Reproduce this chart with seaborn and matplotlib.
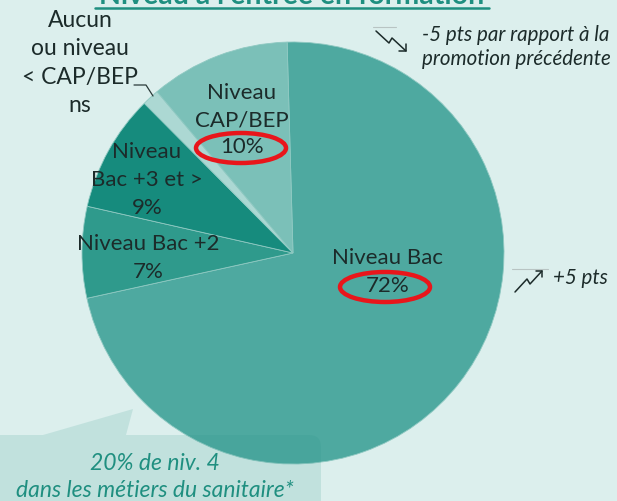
import matplotlib
matplotlib.use("Agg")
import matplotlib.pyplot as plt
from matplotlib.patches import Ellipse, FancyBboxPatch, Polygon
import seaborn as sns

# =========================
# Données
# =========================
niveaux = ["Niveau Bac", "Niveau Bac +2", "Niveau\nBac +3 et >",
           "Aucun\nou niveau\n< CAP/BEP", "Niveau\nCAP/BEP"]
parts = [72, 7, 9, 1.3, 10.7]
etiquettes = ["72%", "7%", "9%", "ns", "10%"]
couleurs = ["#4ea9a0", "#2f9a8c", "#168b7d", "#acd8d3", "#7bc0b8"]

W, H = 617, 501
FOND = "#dcefed"
TEXTE = "#1c2b2a"
TEAL = "#1f8f80"

sns.set_theme(style="white")
plt.rcParams["font.family"] = ["Lato", "DejaVu Sans"]

fig = plt.figure(figsize=(W / 100, H / 100), dpi=100, facecolor=FOND)
ax = fig.add_axes([0, 0, 1, 1])
ax.set_facecolor(FOND)


def Y(y):
    # coordonnées image -> coordonnées axes
    return H - y


ax.pie(parts, colors=couleurs, startangle=91.6, counterclock=False,
       center=(293, Y(253)), radius=211,
       wedgeprops=dict(linewidth=0.6, edgecolor="#8fc9c2"))
ax.set_xlim(0, W)
ax.set_ylim(0, H)
ax.set_aspect("equal")
ax.axis("off")

fs = 16


def etiquette(x, y, txt, taille=fs, esp=1.45):
    ax.text(x, Y(y), txt, ha="center", va="center", fontsize=taille,
            color=TEXTE, linespacing=esp)


# étiquettes des parts
etiquette(388, 272, niveaux[0] + "\n" + etiquettes[0], esp=1.5)
etiquette(242, 120, niveaux[4] + "\n" + etiquettes[4], esp=1.45)
etiquette(147, 180, niveaux[2] + "\n" + etiquettes[2], esp=1.5)
etiquette(148, 258, niveaux[1] + "\n" + etiquettes[1], esp=1.45)
etiquette(80, 63, niveaux[3] + "\n" + etiquettes[3], taille=16.5, esp=1.42)
ax.plot([134, 146, 153], [Y(85), Y(85), Y(96)], color="#2a3a39", lw=0.9)

# cercles rouges
for cx, cy in [(241, 148), (385, 287)]:
    ax.add_patch(Ellipse((cx, Y(cy)), 90, 30, fill=False,
                         edgecolor="#e8161b", lw=3.2, zorder=5))

# évolutions
ax.text(422, Y(47), "-5 pts par rapport à la\npromotion précédente", ha="left",
        va="center", fontsize=14.8, style="italic", color=TEXTE, linespacing=1.2)
ax.plot([373, 396], [Y(27), Y(27)], color="#b8c4c3", lw=0.8)
ax.plot([376, 389, 392, 406], [Y(31), Y(43), Y(38), Y(51)], color="#1c2b2a", lw=1.1)
ax.plot([399, 406, 406], [Y(51), Y(51), Y(44)], color="#1c2b2a", lw=1.1)

ax.text(553, Y(278), "+5 pts", ha="left", va="center", fontsize=14.8,
        style="italic", color=TEXTE)
ax.plot([512, 548], [Y(269), Y(269)], color="#b8c4c3", lw=0.8)
ax.plot([515, 527, 530, 542], [Y(292), Y(279), Y(284), Y(271)], color="#1c2b2a", lw=1.1)
ax.plot([536, 542, 542], [Y(271), Y(271), Y(277)], color="#1c2b2a", lw=1.1)

# bulle du bas
bulle = "#2a9488"
ax.add_patch(FancyBboxPatch((-20, Y(520)), 341, 85,
                            boxstyle="round,pad=0,rounding_size=12",
                            facecolor=bulle, edgecolor="none", alpha=0.15, zorder=4))
ax.add_patch(Polygon([(43, Y(435)), (133, Y(409)), (126, Y(435))],
                     closed=True, facecolor=bulle, edgecolor="none",
                     alpha=0.15, zorder=4))
ax.text(155, Y(477), "20% de niv. 4\ndans les métiers du sanitaire*", ha="center",
        va="center", fontsize=16.5, style="italic", color=TEAL,
        linespacing=1.35, zorder=6)

# titre (coupé en haut)
ax.text(292, Y(4), "Niveau à l'entrée en formation", ha="center", va="baseline",
        fontsize=20.5, fontweight="bold", color=TEAL, clip_on=False)
ax.plot([95, 489], [Y(7.5), Y(7.5)], color=TEAL, lw=1.8)

fig.savefig("out.png", dpi=100, facecolor=FOND)
